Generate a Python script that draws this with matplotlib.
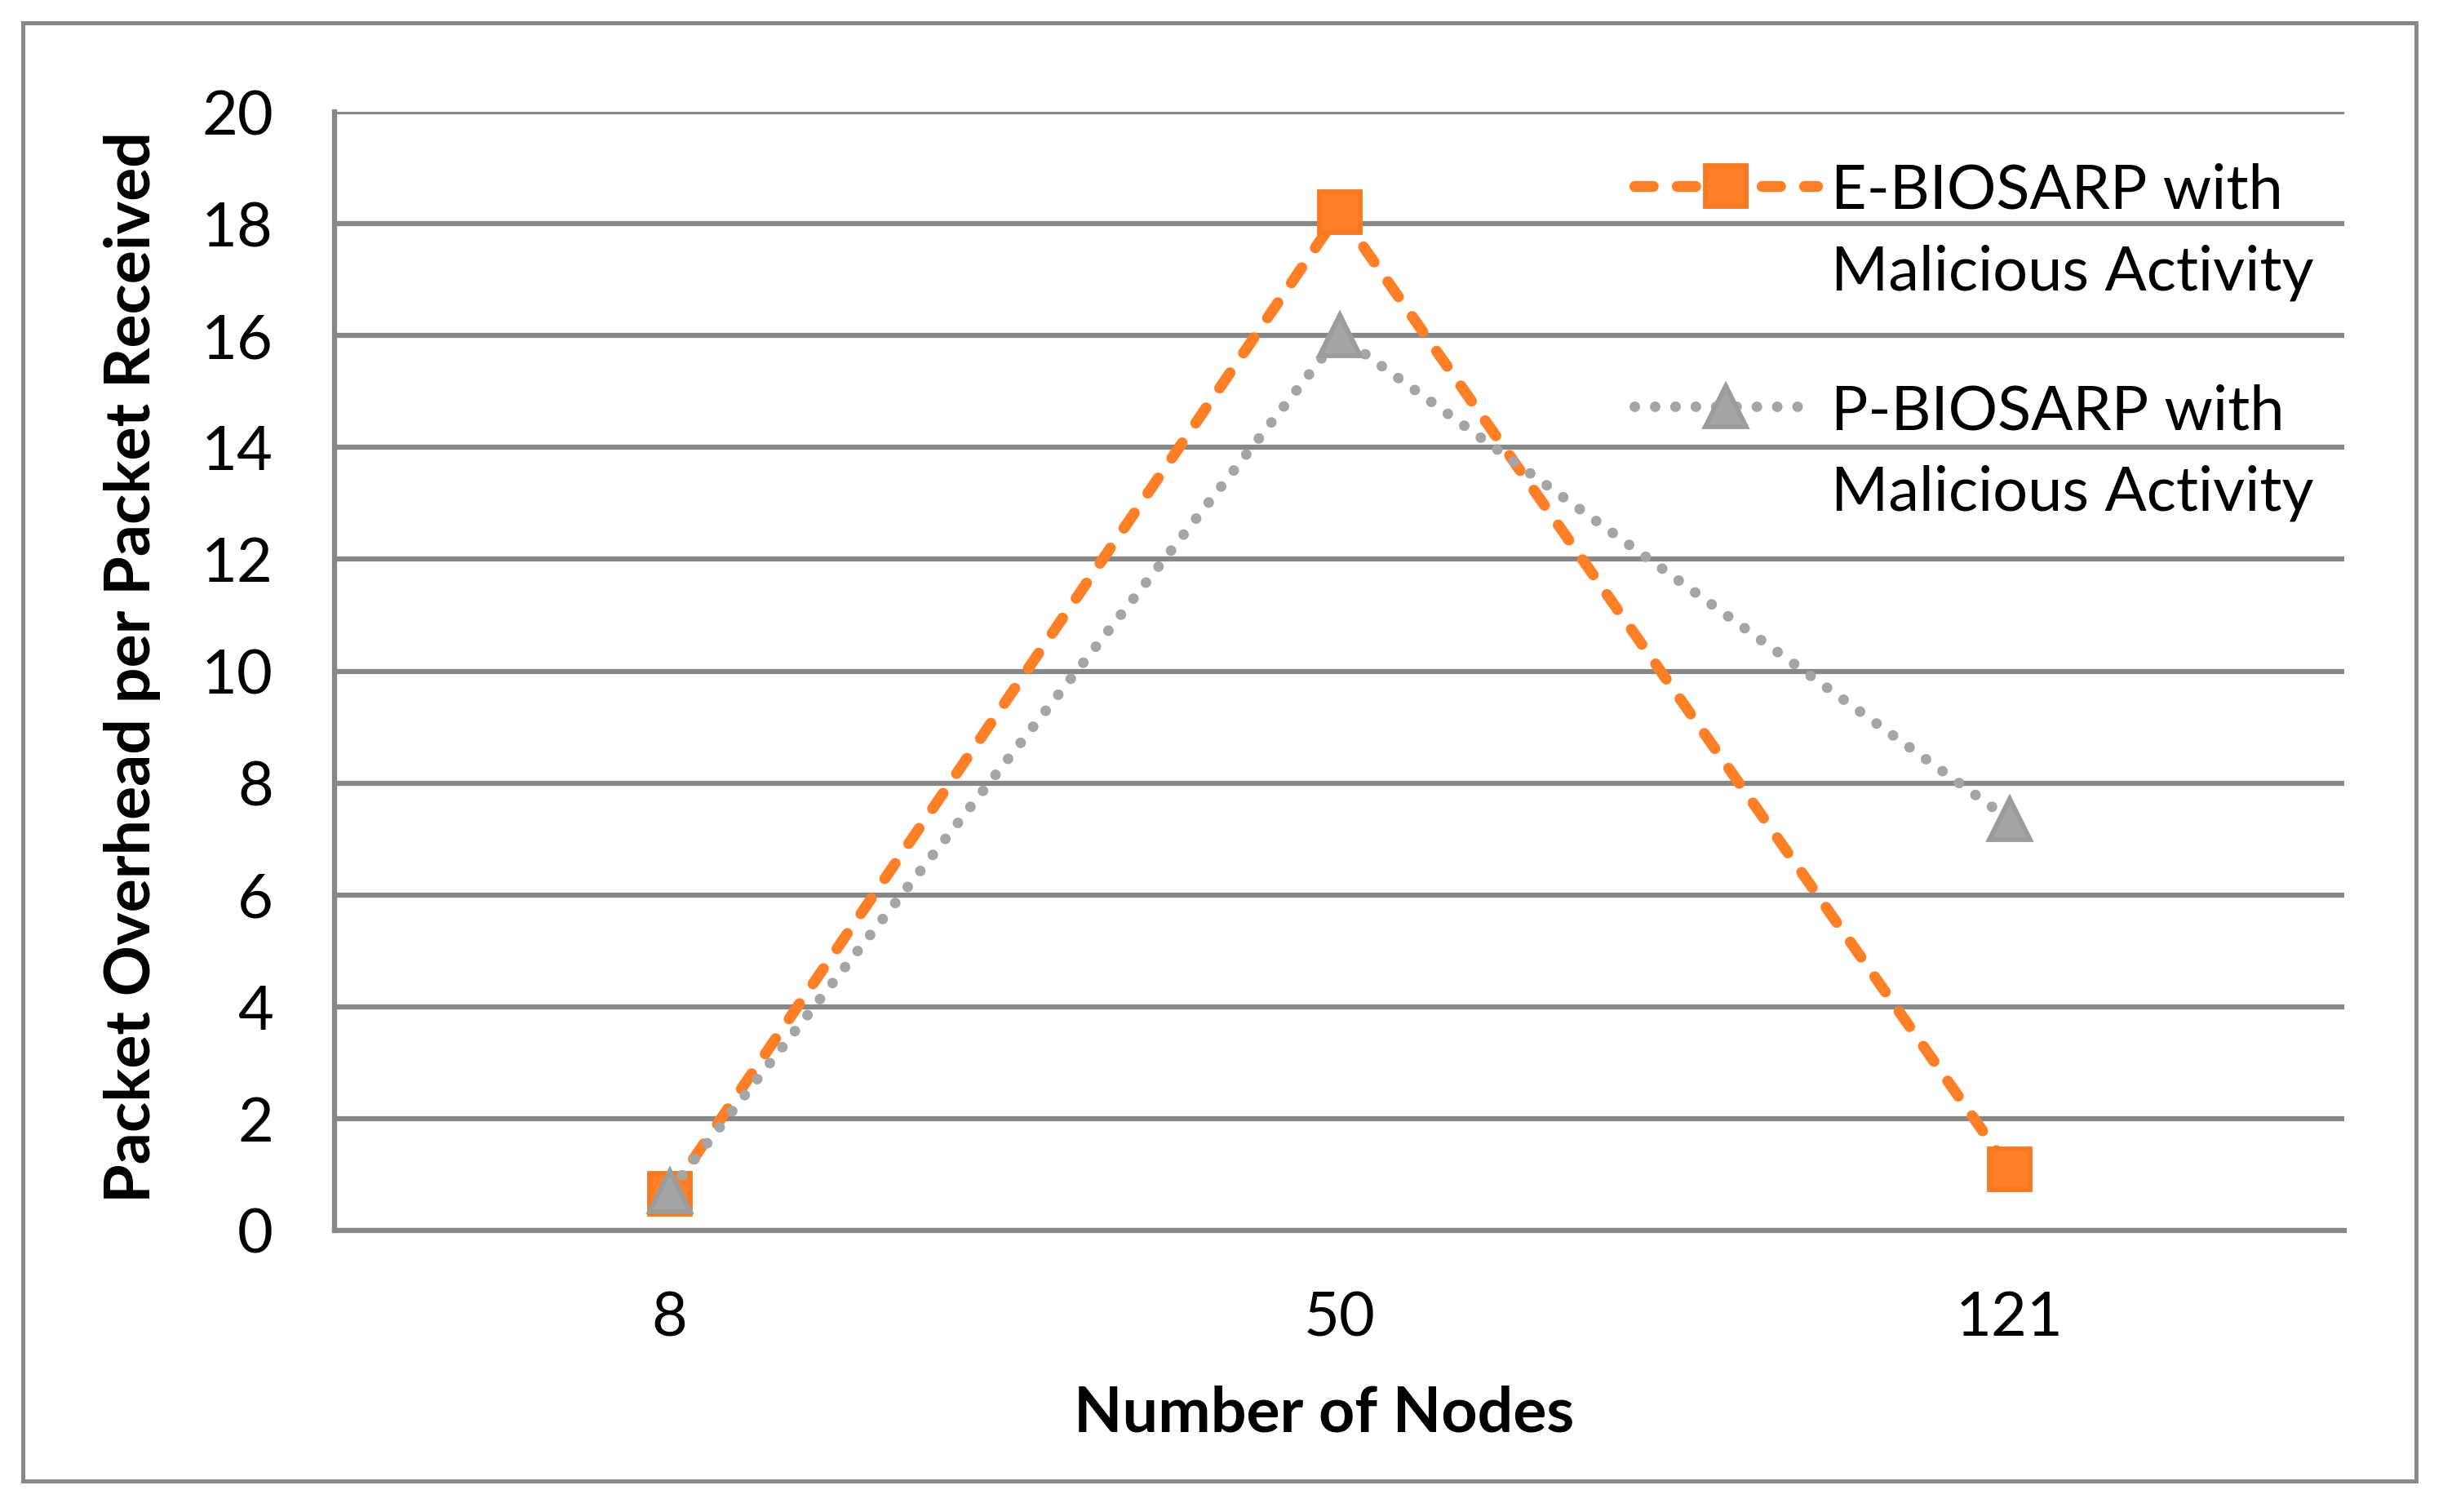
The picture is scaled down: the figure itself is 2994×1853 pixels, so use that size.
import numpy as np
import matplotlib as mpl
mpl.use("Agg")
from matplotlib import pyplot as plt
from matplotlib.patches import Rectangle

# ---------------- data ----------------
nodes = ["8", "50", "121"]
e_biosarp = [0.65, 18.2, 1.1]      # E-BIOSARP with Malicious Activity
p_biosarp = [0.70, 16.0, 7.35]     # P-BIOSARP with Malicious Activity
series_labels = ["E-BIOSARP with\nMalicious Activity",
                 "P-BIOSARP with\nMalicious Activity"]
y_ticks = list(range(0, 21, 2))

# ---------------- style ----------------
orange = "#FF7F27"
orange_edge = "#F77A22"
grey = "#A5A5A5"
grey_edge = "#9C9C9C"
grid_col = "#878787"

plt.rcParams['font.family'] = ['Lato', 'DejaVu Sans']
fs = 9.1
fs_title = 9.25

fig = plt.figure(figsize=(2994/600, 1853/600), dpi=600)
ax = fig.add_axes([410/2994, 1 - 1508/1853, 2463/2994, 1371/1853])

x = np.arange(len(nodes))

e_style = dict(color=orange, lw=1.6, linestyle=(0, (1.7, 2.2)),
               dash_capstyle='round', marker='s', ms=6.0,
               mfc=orange, mec=orange_edge, mew=0.7)
p_style = dict(color=grey, lw=1.55, linestyle=(0, (0.01, 1.92)),
               dash_capstyle='round', marker='^', ms=6.1,
               mfc=grey, mec=grey_edge, mew=0.7)

# grey series sits on top of the orange one in the original
ax.plot(x, e_biosarp, zorder=3, **e_style)
ax.plot(x, p_biosarp, zorder=4, **p_style)

ax.set_xlim(-0.5, len(nodes) - 0.5)
ax.set_ylim(0, 20)
ax.set_xticks(x)
ax.set_xticklabels(nodes)
ax.set_yticks(y_ticks)

ax.yaxis.grid(True, color=grid_col, lw=0.75)
ax.set_axisbelow(True)
for s in ['top', 'right']:
    ax.spines[s].set_visible(False)
for s in ['left', 'bottom']:
    ax.spines[s].set_color(grid_col)
    ax.spines[s].set_linewidth(0.75)

ax.tick_params(axis='both', length=0, labelsize=fs, colors='black')
ax.tick_params(axis='y', pad=9.0)
ax.tick_params(axis='x', pad=8.8)

ax.set_xlabel("Number of Nodes", fontsize=fs_title, fontweight='bold')
ax.set_ylabel("Packet Overhead per Packet Received", fontsize=fs_title, fontweight='bold')
ax.xaxis.label.set_va('center')
ax.yaxis.label.set_va('center')
ax.xaxis.set_label_coords(0.4925, -0.164)
ax.yaxis.set_label_coords(-0.1007, 0.504)

# ---------------- legend (handle on first line, like the original) ----------------
hx = [0.6468, 0.7377]
hy = [0.9336, 0.7367]
ty = [0.8927, 0.6953]
for i, st in enumerate([e_style, p_style]):
    ax.plot(hx, [hy[i], hy[i]], transform=ax.transAxes, clip_on=False,
            color=st['color'], lw=st['lw'], linestyle=st['linestyle'],
            dash_capstyle='round')
    ax.plot([np.mean(hx)], [hy[i]], transform=ax.transAxes, clip_on=False,
            linestyle='none', marker=st['marker'], ms=st['ms'],
            mfc=st['mfc'], mec=st['mec'], mew=st['mew'])
    ax.text(0.7445, ty[i], series_labels[i], transform=ax.transAxes,
            fontsize=fs, ha='left', va='center', linespacing=1.55)

# chart-area border
fig.patches.append(Rectangle((28/2994, 1 - 1815/1853), 2933/2994, 1787/1853,
                             transform=fig.transFigure, fill=False,
                             edgecolor='#898989', lw=0.6))

plt.savefig("out.png", dpi=600)
